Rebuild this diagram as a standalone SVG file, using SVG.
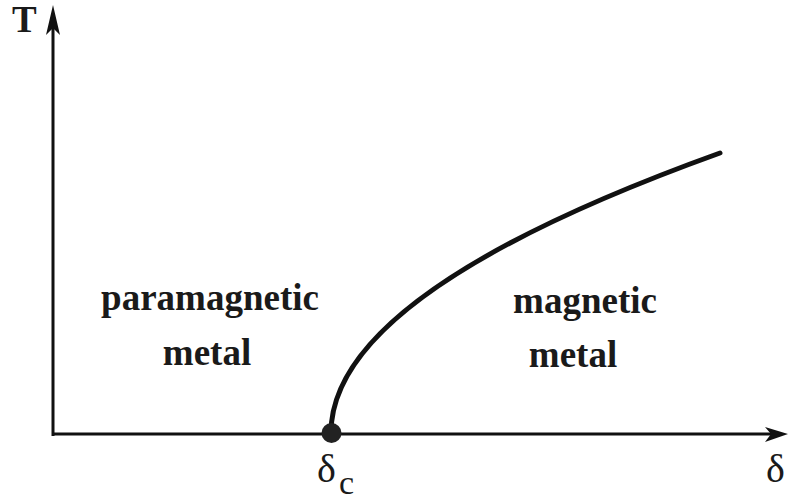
<svg xmlns="http://www.w3.org/2000/svg" width="788" height="503" viewBox="0 0 788 503">
<style>
.axis{stroke:#111;stroke-width:3;fill:none}
.lbl{font-weight:bold;font-size:37px;fill:#1a1a1a}
.sym{fill:#1a1a1a}
</style>
<rect width="788" height="503" fill="#fff"/>
<g id="connectors">
<line class="axis" x1="53" y1="436" x2="53" y2="24"/>
<path d="M53,5 L60,35 L53,28 L46,35 Z" fill="#111"/>
<line class="axis" x1="53" y1="434" x2="772" y2="434"/>
<path d="M788,434 L765,427 L771,434 L765,442 Z" fill="#111"/>
<path d="M331,433 Q331,293 720,153" fill="none" stroke="#111" stroke-width="5" stroke-linecap="round"/>
</g>
<g id="critical-point">
<circle cx="331.5" cy="433" r="10" fill="#222"/>
<text class="sym" font-family="Liberation Serif, serif" x="317" y="482" font-size="40">δ</text>
<text class="sym" font-family="Liberation Serif, serif" x="339" y="494" font-size="34">c</text>
</g>
<g id="axis-T"><text class="lbl" font-family="Liberation Serif, serif" x="12" y="32" font-size="33">T</text></g>
<g id="axis-delta"><text class="sym" font-family="Liberation Serif, serif" x="766" y="482" font-size="40">δ</text></g>
<g id="paramagnetic" font-family="Liberation Serif, serif"><text class="lbl" x="210" y="310" text-anchor="middle">paramagnetic</text><text class="lbl" x="207" y="365" text-anchor="middle">metal</text></g>
<g id="magnetic" font-family="Liberation Serif, serif"><text class="lbl" x="585" y="313" text-anchor="middle">magnetic</text><text class="lbl" x="573" y="367" text-anchor="middle">metal</text></g>
</svg>
